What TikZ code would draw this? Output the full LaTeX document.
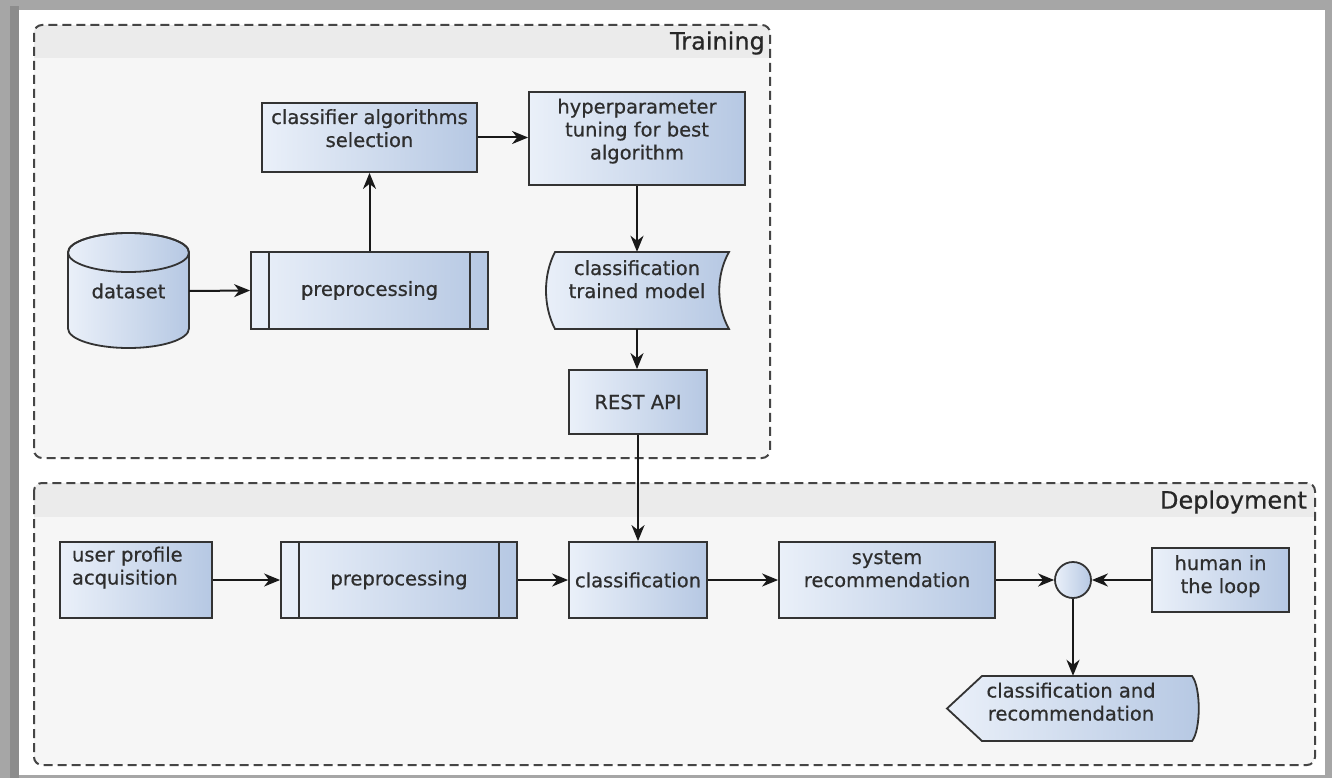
\documentclass[tikz,border=0pt]{standalone}
\usepackage{fontspec}
\setmainfont{DejaVu Sans}
\newfontfamily\nodefam{DejaVu Sans}[FakeBold=0.6]
\usetikzlibrary{arrows.meta}
\definecolor{nodeL}{HTML}{EAF0F9}
\definecolor{nodeR}{HTML}{B6C8E3}
\definecolor{bordercol}{HTML}{333333}
\definecolor{textcol}{HTML}{2E2E2E}
\definecolor{dashcol}{HTML}{454545}
\definecolor{headcol}{HTML}{EBEBEB}
\definecolor{bodycol}{HTML}{F6F6F6}
\definecolor{framecol}{HTML}{A6A6A6}
\newcommand{\nodefont}{\nodefam\fontsize{19.5}{23}\selectfont}
\newcommand{\headfont}{\nodefam\fontsize{24}{28}\selectfont}
\tikzset{
  box/.style={draw=bordercol, line width=1.8pt, left color=nodeL, right color=nodeR,
    inner sep=0pt, align=center, font=\nodefont, text=textcol},
  proc/.style={box, path picture={
    \draw[bordercol, line width=1.8pt]
      ([xshift=18pt]path picture bounding box.north west) -- ([xshift=18pt]path picture bounding box.south west)
      ([xshift=-18pt]path picture bounding box.north east) -- ([xshift=-18pt]path picture bounding box.south east);}},
  shapefill/.style={draw=bordercol, line width=1.8pt, left color=nodeL, right color=nodeR},
  plain/.style={inner sep=0pt, align=center, font=\nodefont, text=textcol},
  tpos/.style 2 args={text height=#1, text depth=#2},
  conn/.style={draw=black!90, line width=2pt, -{Stealth[length=16pt,width=13pt,inset=5pt]}},
  grp/.style={draw=dashcol, line width=2pt, dash pattern=on 9pt off 5pt, rounded corners=8pt},
  grptitle/.style={font=\headfont, text=black!85, anchor=east, inner sep=0pt}
}
\begin{document}
\begin{tikzpicture}[x=1pt,y=-1pt]
% page frame
\fill[framecol] (0,0) rectangle (1332,778);
\fill[black!45] (10,6) rectangle (19,778);
\fill[white] (19,10) rectangle (1325,775);
\useasboundingbox (0,0) rectangle (1332,778);

% Training group
\begin{scope}
  \clip[rounded corners=8pt] (34,25) rectangle (770,458);
  \fill[bodycol] (34,25) rectangle (770,458);
  \fill[headcol] (34,25) rectangle (770,58);
\end{scope}
\draw[grp] (34,25) rectangle (770,458);
\node[grptitle] (ttrain) at (765,43) {Training};

% Deployment group
\begin{scope}
  \clip[rounded corners=8pt] (34,483) rectangle (1315,765);
  \fill[bodycol] (34,483) rectangle (1315,765);
  \fill[headcol] (34,483) rectangle (1315,517);
\end{scope}
\draw[grp] (34,483) rectangle (1315,765);
\node[grptitle] (tdeploy) at (1307,502) {Deployment};

% dataset cylinder
\path[shapefill] (68,252.5) -- (68,328.5)
  .. controls (68,339.27) and (95.09,348) .. (128.5,348)
  .. controls (161.91,348) and (189,339.27) .. (189,328.5)
  -- (189,252.5)
  .. controls (189,241.73) and (161.91,233) .. (128.5,233)
  .. controls (95.09,233) and (68,241.73) .. (68,252.5) -- cycle;
\draw[bordercol, line width=1.8pt] (128.5,252.5) ellipse [x radius=60.5pt, y radius=19.5pt];
\node[plain, minimum width=121pt, minimum height=115pt] (ds) at (128.5,291) {dataset};

% training nodes
\node[proc, minimum width=237pt, minimum height=77pt] (pre1) at (369.5,290.5) {preprocessing};
\node[box, minimum width=215pt, minimum height=69pt, tpos={37pt}{18pt}] (cas) at (369.5,137.5) {classifier algorithms\\selection};
\node[box, minimum width=216pt, minimum height=93pt, tpos={60pt}{18pt}] (hyp) at (637,138.5) {hyperparameter\\tuning for best\\algorithm};

% trained model (stored data shape)
\path[shapefill] (555,252) -- (729,252)
  .. controls (716,275) and (716,306) .. (729,329)
  -- (555,329)
  .. controls (543,306) and (543,275) .. (555,252) -- cycle;
\node[plain, minimum width=183pt, minimum height=77pt, tpos={37pt}{22pt}] (tm) at (637,290.5) {classification\\trained model};

\node[box, minimum width=138pt, minimum height=64pt] (rest) at (638,402) {REST API};

% deployment nodes
\node[box, minimum width=152pt, minimum height=76pt, text width=128pt, align=left, tpos={10pt}{47pt}] (upa) at (136,580) {user profile\\acquisition};
\node[proc, minimum width=236pt, minimum height=76pt] (pre2) at (399,580) {preprocessing};
\node[box, minimum width=138pt, minimum height=76pt] (cls) at (638,580) {classification};
\node[box, minimum width=216pt, minimum height=76pt, tpos={37pt}{23pt}] (sys) at (887,580) {system\\recommendation};
\node[box, circle, minimum size=36pt] (join) at (1073,580) {};
\node[box, minimum width=137pt, minimum height=64pt, tpos={37pt}{11pt}] (hil) at (1220.5,580) {human in\\the loop};

% output (display shape)
\path[shapefill] (947,708.5) -- (982,676) -- (1192,676)
  .. controls (1201,687) and (1201,730) .. (1192,741)
  -- (982,741) -- cycle;
\node[plain, minimum width=252pt, minimum height=65pt, tpos={37pt}{13pt}] (out) at (1071,708.5) {classification and\\recommendation};

% connectors
\draw[conn] (ds.east) -- (pre1.west);
\draw[conn] (pre1.north) -- (cas.south);
\draw[conn] (cas.east) -- (hyp.west |- cas.east);
\draw[conn] (hyp.south) -- (tm.north);
\draw[conn] (tm.south) -- (rest.north -| tm.south);
\draw[conn] (rest.south) -- (cls.north);
\draw[conn] (upa.east) -- (pre2.west);
\draw[conn] (pre2.east) -- (cls.west);
\draw[conn] (cls.east) -- (sys.west);
\draw[conn] (sys.east) -- (join.west);
\draw[conn] (hil.west) -- (join.east);
\draw[conn] (join.south) -- (out.north -| join.south);
\end{tikzpicture}
\end{document}
